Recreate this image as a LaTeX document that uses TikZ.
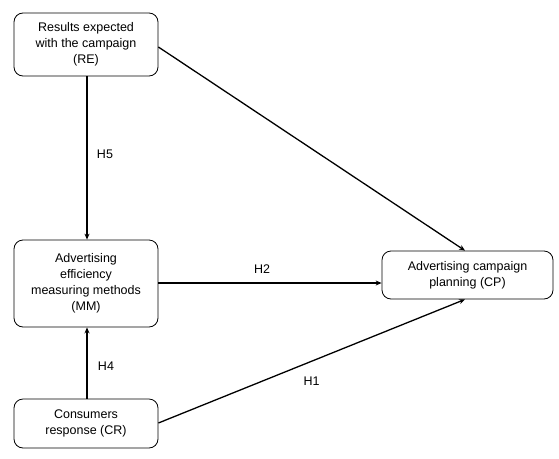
\documentclass[tikz,border=0pt]{standalone}
\usepackage{fontspec}
\setmainfont{Liberation Sans}
\usetikzlibrary{arrows.meta,positioning}

\begin{document}
\begin{tikzpicture}[
    x=1pt,y=-1pt,
    >={Stealth[length=6pt,width=5pt]},
    box/.style={draw,rounded corners=9pt,line width=0.8pt,align=center,
                font=\fontsize{12.5}{16}\selectfont,inner sep=0pt,
                minimum width=144pt},
    hyp/.style={->,line width=1.3pt},
    lbl/.style={font=\fontsize{12.5}{15}\selectfont},
]
\useasboundingbox (0,0) rectangle (559,458);

% ---- constructs ----
\node[box,minimum height=63pt] (re) at (86,44.5)
  {Results expected\\with the campaign\\(RE)};
\node[box,minimum height=87pt] (mm) at (86,283.5)
  {Advertising\\efficiency\\measuring methods\\(MM)};
\node[box,minimum height=49pt] (cr) at (86,423.5)
  {Consumers\\response (CR)};
\node[box,minimum width=171pt,minimum height=48pt] (cp) at (467.5,275)
  {Advertising campaign\\planning (CP)};

% ---- hypotheses ----
\draw[hyp] (re.south -| 87,0) -- node[lbl,right=6pt,pos=0.48]{H5} (mm.north -| 87,0);
\draw[hyp] (cr.north -| 87,0) -- node[lbl,right=7pt,pos=0.45]{H4} (mm.south -| 87,0);
\draw[hyp] (mm.east |- 0,283) -- node[lbl,above=6pt,pos=0.465]{H2} (cp.west |- 0,283);
\draw[hyp] (re.east |- 0,47) -- (cp.north -| 465,0);
\draw[hyp] (cr.east |- 0,423) -- node[lbl,below=12pt,pos=0.5]{H1} (cp.south -| 465,0);

\end{tikzpicture}
\end{document}
